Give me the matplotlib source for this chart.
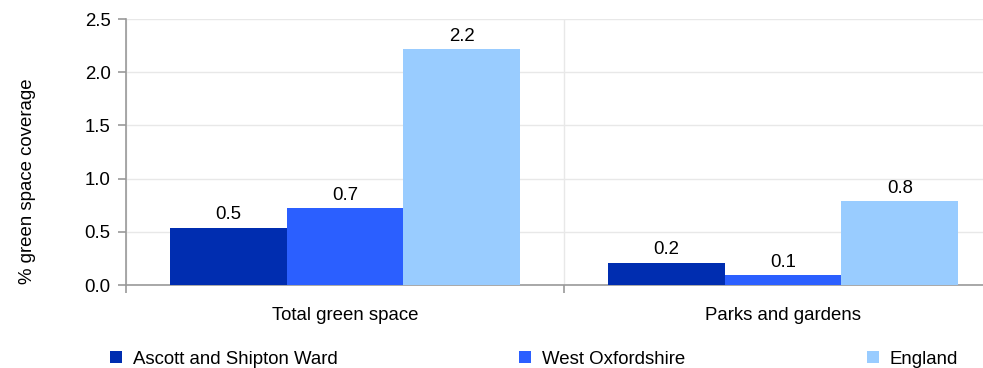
import matplotlib.pyplot as plt
from matplotlib.ticker import FixedLocator

plt.rcParams['font.family'] = ['Liberation Sans', 'DejaVu Sans']

categories = ['Total green space', 'Parks and gardens']
series_names = ['Ascott and Shipton Ward', 'West Oxfordshire', 'England']
ascott = [0.54, 0.21]
west_oxon = [0.72, 0.09]
england = [2.22, 0.79]
colors = ['#002DB0', '#2B5FFF', '#99CCFF']

fs = 13.4

fig = plt.figure(figsize=(9.83, 3.68), dpi=100)
ax = fig.add_axes([126 / 983, 83 / 368, 876 / 983, 266 / 368])

width = 0.267
xs = range(len(categories))
for i, (vals, name, c) in enumerate(zip([ascott, west_oxon, england], series_names, colors)):
    pos = [x + (i - 1) * width for x in xs]
    bars = ax.bar(pos, vals, width=width, color=c, label=name, zorder=3)
    ax.bar_label(bars, labels=[f'{v:.1f}' for v in vals], padding=3, fontsize=fs)

ax.set_xlim(-0.5, 1.5)
ax.set_ylim(0, 2.5)
ax.set_yticks([0, 0.5, 1.0, 1.5, 2.0, 2.5])
ax.set_yticklabels(['0.0', '0.5', '1.0', '1.5', '2.0', '2.5'])
ax.set_xticks(list(xs))
ax.set_xticklabels(categories)
ax.xaxis.set_minor_locator(FixedLocator([-0.5, 0.5]))
ax.tick_params(axis='x', which='major', length=0, pad=16, labelsize=fs)
ax.tick_params(axis='x', which='minor', length=6, color='#999999', width=1.2)
ax.tick_params(axis='y', length=6, color='#999999', width=1.2, pad=5, labelsize=fs)
ax.grid(axis='y', color='#E8E8E8', lw=1, zorder=0)
ax.grid(axis='x', which='minor', color='#E8E8E8', lw=1, zorder=0)

for s in ['top', 'right']:
    ax.spines[s].set_visible(False)
for s in ['left', 'bottom']:
    ax.spines[s].set_color('#999999')
    ax.spines[s].set_linewidth(1.2)

ax.set_ylabel('% green space coverage', fontsize=fs)
ax.yaxis.set_label_coords((36 - 126) / 876, (285 - 181) / 266)

fig.legend(loc='lower left', bbox_to_anchor=(93 / 983, -0.045, 882 / 983, 0.1),
           ncol=3, mode='expand', frameon=False, fontsize=fs,
           handlelength=0.65, handleheight=0.65, handletextpad=0.6)

fig.savefig('out.png', dpi=100)
